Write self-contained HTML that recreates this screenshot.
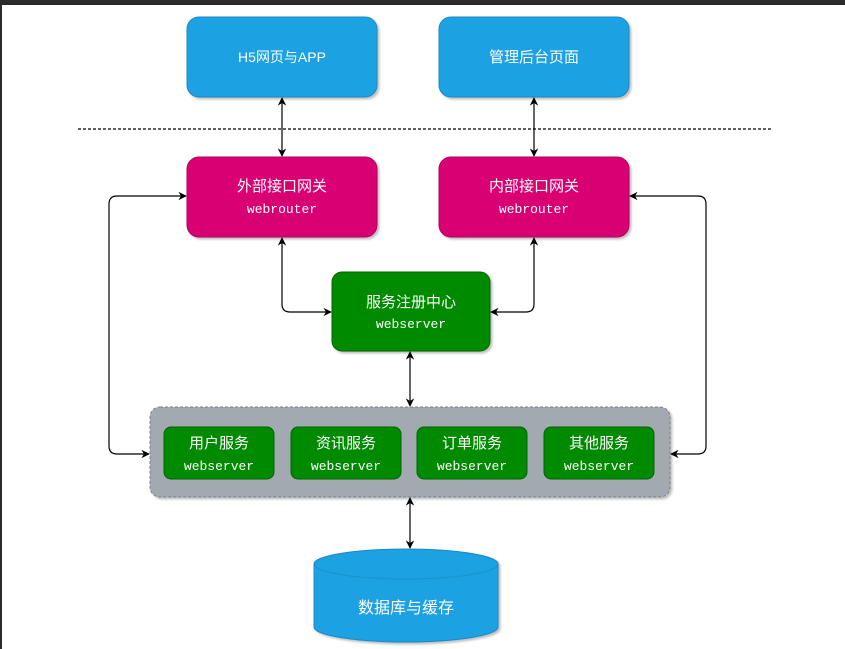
<!DOCTYPE html>
<html><head><meta charset="utf-8"><style>
body{margin:0;width:845px;height:649px;background:#fff;overflow:hidden}
svg{display:block}
text{font-family:"Liberation Sans","Noto Sans CJK SC",sans-serif;fill:#fff;text-anchor:middle}
.m{font-family:"Liberation Mono","Noto Sans CJK SC",monospace}
</style></head><body>
<svg width="845" height="649" viewBox="0 0 845 649" xmlns="http://www.w3.org/2000/svg">
<defs>
<marker id="a" viewBox="0 0 10 10" refX="9" refY="5" markerWidth="7" markerHeight="7" orient="auto-start-reverse"><path d="M0,0 L10,5 L0,10 L3,5z" fill="#000"/></marker>
<filter id="s"><feDropShadow dx="2" dy="2" stdDeviation="1" flood-color="#000" flood-opacity="0.25"/></filter>
</defs>
<rect x="0" y="0" width="845" height="5" fill="#2b2b2b"/>
<rect x="0" y="0" width="2" height="649" fill="#2b2b2b"/>
<line x1="78" y1="129" x2="771" y2="129" stroke="#000" stroke-dasharray="3,2" stroke-width="1.2"/>
<g filter="url(#s)">
<rect x="187" y="17" width="190" height="80" rx="12" fill="#1ba1e2" stroke="#1a8ac4"/>
<rect x="439" y="17" width="190" height="80" rx="12" fill="#1ba1e2" stroke="#1a8ac4"/>
<rect x="187" y="157" width="190" height="80" rx="12" fill="#d80073" stroke="#b0005e"/>
<rect x="439" y="157" width="190" height="80" rx="12" fill="#d80073" stroke="#b0005e"/>
<rect x="332" y="272" width="158" height="79" rx="10" fill="#008a00" stroke="#006600"/>
<rect x="150" y="407" width="520" height="90" rx="10" fill="#a2a9b1" stroke="#7a8189" stroke-dasharray="3,2"/>
<rect x="164" y="427" width="110" height="52" rx="7" fill="#008a00" stroke="#006600"/>
<rect x="291" y="427" width="110" height="52" rx="7" fill="#008a00" stroke="#006600"/>
<rect x="417" y="427" width="110" height="52" rx="7" fill="#008a00" stroke="#006600"/>
<rect x="544" y="427" width="110" height="52" rx="7" fill="#008a00" stroke="#006600"/>
<path d="M314,564 A92,15 0 0 1 498,564 L498,627 A92,15 0 0 1 314,627 Z" fill="#1ba1e2" stroke="#1a8ac4"/>
</g>
<path d="M314,564 A92,15 0 0 0 498,564" fill="none" stroke="#1a8ac4" stroke-dasharray="2,1"/>
<text x="282" y="62" font-size="14">H5网页与APP</text>
<text x="534" y="62" font-size="15">管理后台页面</text>
<text x="282" y="191" font-size="15">外部接口网关</text>
<text x="282" y="213" font-size="13" class="m">webrouter</text>
<text x="534" y="191" font-size="15">内部接口网关</text>
<text x="534" y="213" font-size="13" class="m">webrouter</text>
<text x="411" y="307" font-size="15">服务注册中心</text>
<text x="411" y="328" font-size="13" class="m">webserver</text>
<g font-size="15"><text x="219" y="448">用户服务</text><text x="346" y="448">资讯服务</text><text x="472" y="448">订单服务</text><text x="599" y="448">其他服务</text></g>
<g font-size="13" class="m"><text x="219" y="470" class="m">webserver</text><text x="346" y="470" class="m">webserver</text><text x="472" y="470" class="m">webserver</text><text x="599" y="470" class="m">webserver</text></g>
<text x="406" y="613" font-size="16">数据库与缓存</text>
<g stroke="#000" stroke-width="1.2" fill="none" marker-start="url(#a)" marker-end="url(#a)">
<line x1="282" y1="98" x2="282" y2="156"/>
<line x1="534" y1="98" x2="534" y2="156"/>
<path d="M282,238 L282,304 Q282,312 290,312 L331,312"/>
<path d="M534,238 L534,304 Q534,312 526,312 L491,312"/>
<line x1="410" y1="352" x2="410" y2="406"/>
<line x1="410" y1="498" x2="410" y2="548"/>
<path d="M186,196 L117,196 Q109,196 109,204 L109,446 Q109,454 117,454 L149,454"/>
<path d="M630,196 L698,196 Q706,196 706,204 L706,446 Q706,454 698,454 L671,454"/>
</g>
</svg>
</body></html>
